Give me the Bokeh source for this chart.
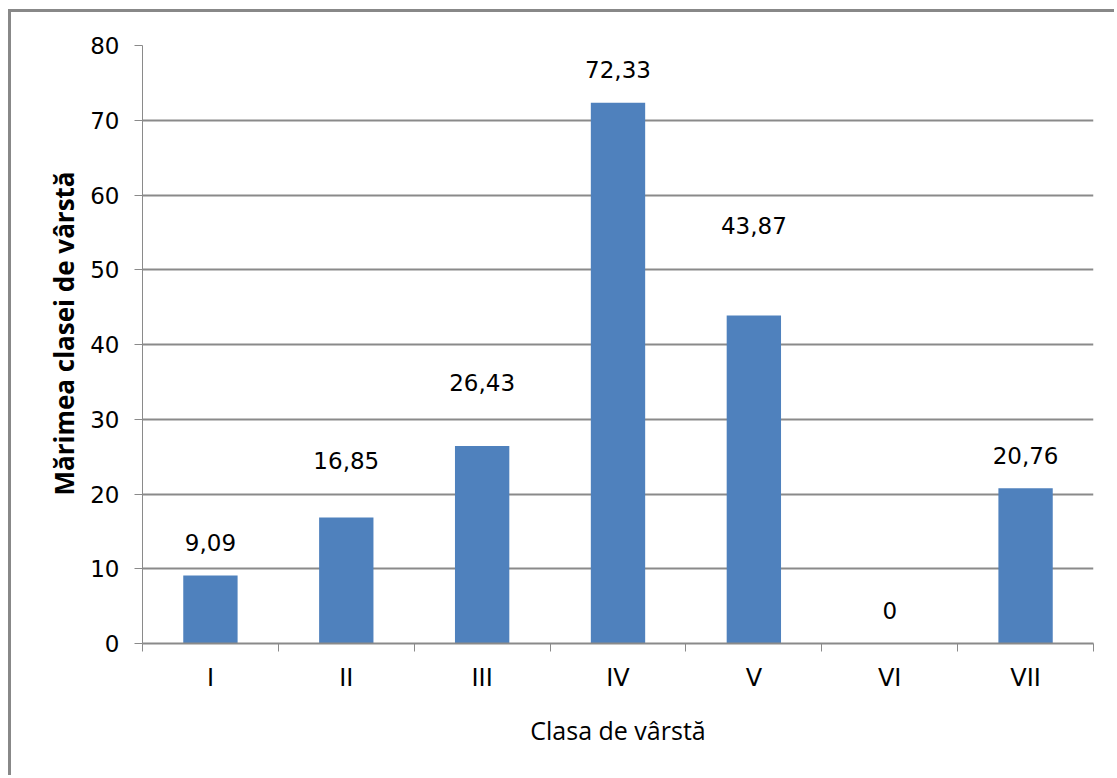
from bokeh.plotting import figure
from bokeh.models import ColumnDataSource, FixedTicker, Title, Range1d
from bokeh.core.properties import value
from bokeh.embed import file_html
from bokeh.resources import INLINE

# ---- data ----
categories = ["I", "II", "III", "IV", "V", "VI", "VII"]
sizes = [9.09, 16.85, 26.43, 72.33, 43.87, 0.0, 20.76]
y_ticks = [0, 10, 20, 30, 40, 50, 60, 70, 80]
x_title = "Clasa de vârstă"
y_title = "Mărimea clasei de vârstă"

# ---- style: how far (px) each data label sits above its bar ----
label_lift_px = [33, 57, 63, 33, 90, 33, 33]

def fmt(v):
    return "0" if v == 0 else f"{v:.2f}".replace(".", ",")

n = len(categories)
centers = [i + 0.5 for i in range(n)]
src = ColumnDataSource(dict(
    x=centers, top=sizes, label=[fmt(v) for v in sizes],
    yoff=[-d for d in label_lift_px],
))

GRAY = "#8a8a8a"
NUM_FONT = "DejaVu Sans"
TXT_FONT = "Open Sans"

p = figure(width=1106, height=766, output_backend="svg", toolbar_location=None,
           x_range=Range1d(0, n), y_range=Range1d(0, 80),
           min_border_left=131, min_border_right=24, min_border_top=33,
           min_border_bottom=135)
p.styles = {"margin-left": "8px", "margin-top": "9px",
            "border-left": "3px solid #888888", "border-top": "3px solid #888888"}
p.outline_line_color = None
p.background_fill_color = "white"
p.border_fill_color = "white"

p.vbar(x="x", top="top", width=0.4, bottom=0, source=src,
       fill_color="#4F81BD", line_color=None)

p.text(x="x", y="top", text="label", y_offset="yoff", source=src,
       text_align="center", text_baseline="middle",
       text_font=value(NUM_FONT), text_font_size="23px", text_color="black")

# grid
p.xgrid.visible = False
p.ygrid.ticker = FixedTicker(ticks=y_ticks)
p.ygrid.grid_line_color = GRAY
p.ygrid.grid_line_width = 2

# x axis: ticks at category boundaries (minor), labels at centres
xa = p.xaxis[0]
xa.ticker = FixedTicker(ticks=centers, minor_ticks=list(range(n + 1)))
xa.major_label_overrides = {c: cat for c, cat in zip(centers, categories)}
xa.major_tick_line_color = None
xa.minor_tick_line_color = GRAY
xa.minor_tick_out = 8
xa.minor_tick_in = 0
xa.axis_line_color = GRAY
xa.axis_line_width = 2
xa.major_label_text_font = NUM_FONT
xa.major_label_text_font_size = "24px"
xa.major_label_text_color = "black"
xa.major_label_standoff = 12
xa.axis_label = x_title
xa.axis_label_text_font = TXT_FONT
xa.axis_label_text_font_size = "25px"
xa.axis_label_text_font_style = "normal"
xa.axis_label_text_color = "black"
xa.axis_label_standoff = 18

ya = p.yaxis[0]
ya.ticker = FixedTicker(ticks=y_ticks)
ya.minor_tick_line_color = None
ya.major_tick_line_color = GRAY
ya.major_tick_out = 8
ya.major_tick_in = 0
ya.axis_line_color = GRAY
ya.major_label_text_font = NUM_FONT
ya.major_label_text_font_size = "23px"
ya.major_label_text_color = "black"
ya.major_label_standoff = 15

p.add_layout(Title(text=y_title, align="left", offset=148,
                   text_font=TXT_FONT, text_font_size="26px",
                   text_font_style="bold", text_color="black", standoff=12), "left")

open("out.html", "w").write(file_html(p, INLINE))
